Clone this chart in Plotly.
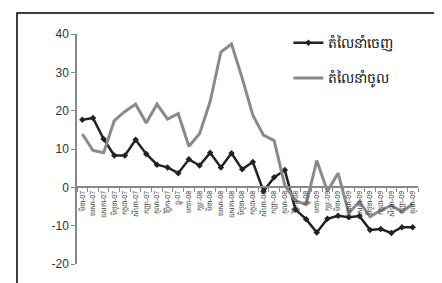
import plotly.graph_objects as go

months = ["មិនា", "មេសា", "ឧសភា", "មិថុនា", "កក្កដា", "សីហា", "កញ្ញា", "តុលា",
          "វិច្ឆិកា", "ធ្នូ", "មករា", "កុម្ភៈ"]
years = ["07"] * 10 + ["08"] * 12 + ["09"] * 10
categories = [f"{months[i % 12]}-{years[i]}" for i in range(32)]

exports = [17.6, 18.1, 12.6, 8.3, 8.3, 12.4, 8.7, 5.9, 5.2, 3.7,
           7.3, 5.7, 9.0, 5.2, 8.9, 4.7, 6.6, -1.0, 2.6, 4.5,
           -5.8, -8.3, -11.8, -8.2, -7.4, -7.8, -7.5, -11.1, -10.9, -11.9,
           -10.4, -10.4]
imports = [13.9, 9.6, 9.0, 17.4, 19.8, 21.7, 16.8, 21.7, 17.8, 19.2,
           10.7, 14.0, 22.4, 35.3, 37.4, 28.5, 18.8, 13.6, 12.2, 0.5,
           -3.5, -4.5, 7.0, -1.0, 3.7, -6.7, -3.7, -7.7, -6.0, -4.7,
           -6.4, -4.3]

y_ticks = [-20, -10, 0, 10, 20, 30, 40]
y_ticktext = ["-20", "-10", "0", "10", "20", "30", "40"]

series_names = ["តំលៃនាំចេញ", "តំលៃនាំចូល"]

fig = go.Figure()
fig.add_trace(go.Scatter(
    x=categories, y=exports, name=series_names[0], mode="lines+markers",
    line=dict(color="#222222", width=2.5),
    marker=dict(symbol="diamond", size=5, color="#222222"),
    legendgroup="a",
))
fig.add_trace(go.Scatter(
    x=categories, y=imports, name=series_names[1], mode="lines",
    line=dict(color="#8a8a8a", width=3),
    legendgroup="b",
))

fig.update_layout(
    width=442, height=283,
    margin=dict(l=69, r=32, t=26, b=27),
    paper_bgcolor="white", plot_bgcolor="white",
    font=dict(family="Arial, Liberation Sans, sans-serif", color="#333333"),
    showlegend=True,
    legend=dict(x=0.62, y=1.03, xanchor="left", yanchor="top",
                font=dict(size=14, color="#111111"),
                bgcolor="rgba(0,0,0,0)", tracegroupgap=14,
                traceorder="grouped", itemwidth=30),
    xaxis=dict(
        type="category", range=[-0.5, 31.5],
        anchor="free", position=1/3,
        showline=True, linecolor="#888888", linewidth=1.5,
        ticks="outside", ticklen=4, tickcolor="#888888", tickson="boundaries",
        tickangle=-90, tickfont=dict(size=7, color="#333333"),
        showgrid=False, zeroline=False,
    ),
    yaxis=dict(
        range=[-20, 40], tickvals=y_ticks, ticktext=y_ticktext,
        showline=True, linecolor="#888888", linewidth=1.5,
        ticks="outside", ticklen=4, tickcolor="#888888",
        tickfont=dict(size=12, color="#333333"),
        showgrid=False, zeroline=False,
    ),
    shapes=[dict(type="rect", xref="paper", yref="paper",
                 x0=(9 - 69) / 341, x1=(460 - 69) / 341,
                 y0=(256 - 300) / 230, y1=(256 - 5) / 230,
                 line=dict(color="black", width=1.5))],
)

fig.write_html("out.html")
